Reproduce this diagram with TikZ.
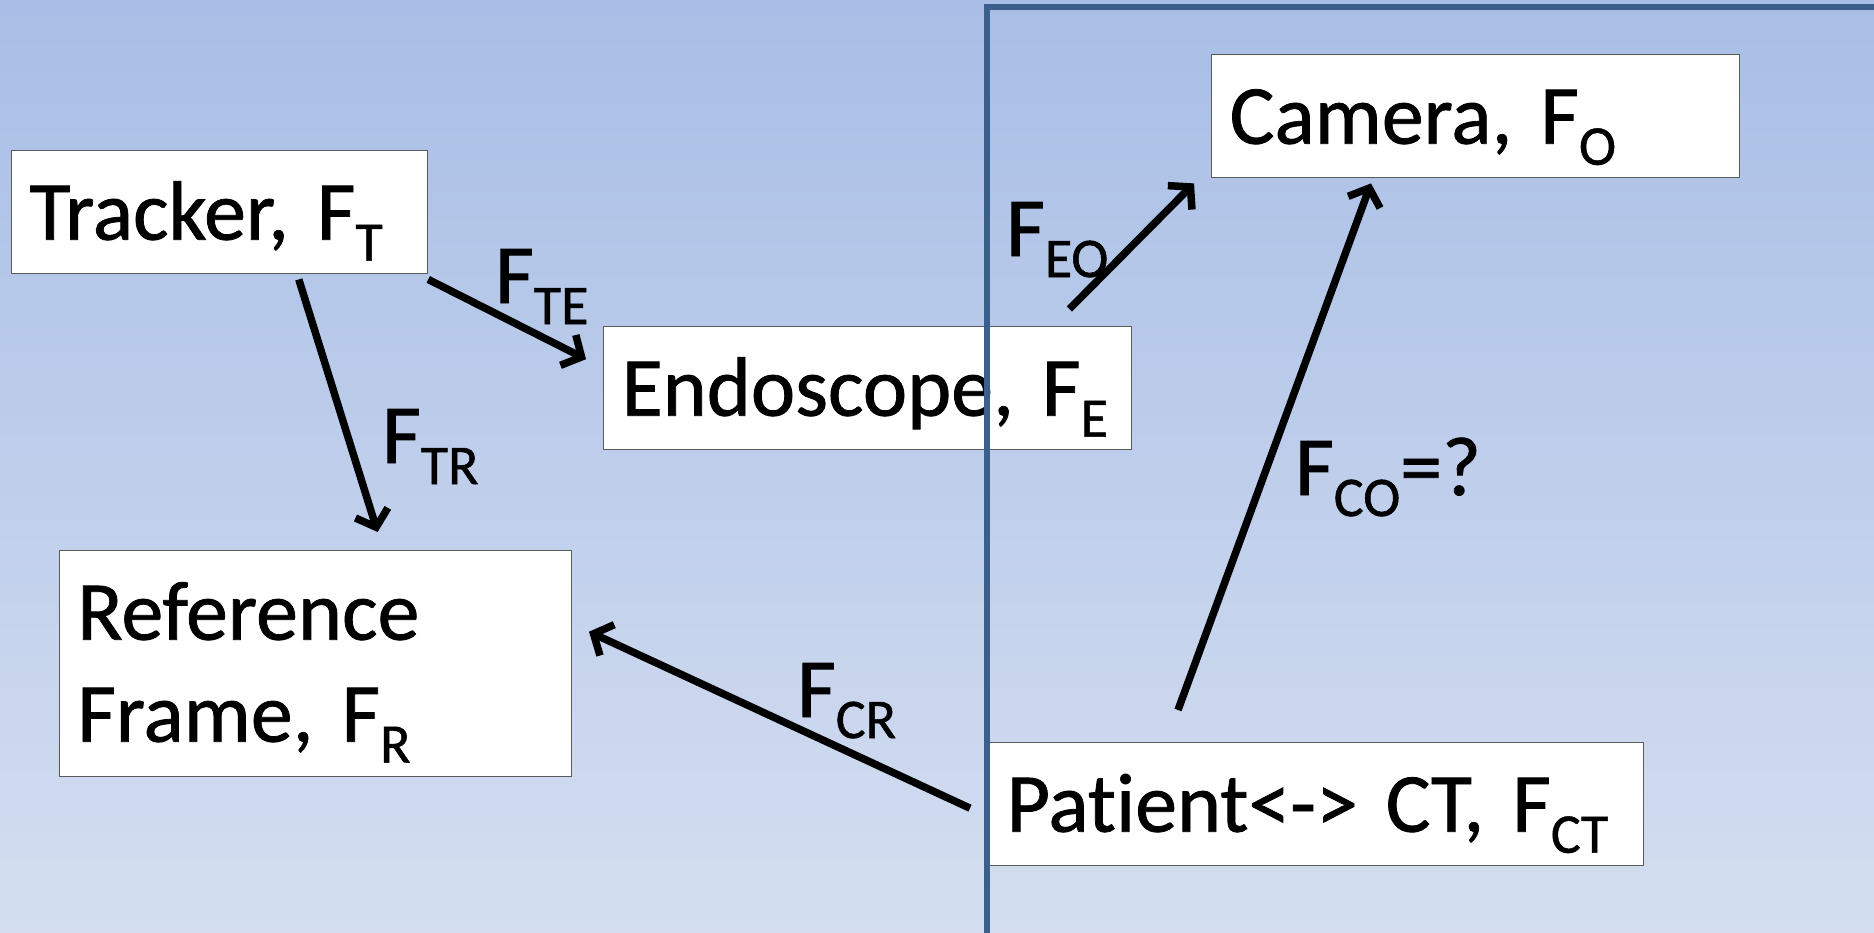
\documentclass[tikz,border=0pt]{standalone}
\usepackage{fontspec}
\setmainfont[RawFeature={-liga}, FakeBold=0.9, WordSpace=0.7]{Carlito}
\usetikzlibrary{arrows.meta}
\definecolor{bgtop}{RGB}{168,190,230}
\definecolor{bgbot}{RGB}{212,222,240}
\definecolor{framecol}{RGB}{60,94,138}
\definecolor{boxline}{RGB}{90,90,90}
\newcommand\lsub[1]{\raisebox{-21pt}{\fontsize{56}{60}\selectfont #1}}
\tikzset{
  bigfont/.style={font=\fontsize{84}{102}\selectfont},
  framebox/.style={draw=boxline, line width=1.4pt, fill=white, anchor=north west,
    inner xsep=18pt, inner ysep=0pt, text height=89pt, text depth=34pt, align=left, bigfont},
  lbl/.style={inner sep=0pt, anchor=base west, bigfont},
  conn/.style={line width=7.5pt, -{Straight Barb[length=15pt,width=34pt]}},
  regionframe/.style={draw=framecol, line width=6pt}
}
\begin{document}
\begin{tikzpicture}[x=1pt,y=-1pt]
\useasboundingbox (0,0) rectangle (1874,932);
\shade[top color=bgtop, bottom color=bgbot] (0,0) rectangle (1874,932);

\node[framebox, text width=380pt] (tracker) at (10.8,150) {Tracker, F\lsub{T}};
\node[framebox, text width=492pt] (endo) at (603,326) {Endoscope, F\lsub{E}};
\node[framebox, text width=492pt] (cam) at (1211,54) {Camera, F\lsub{O}};
\node[framebox, text width=476pt, text depth=137pt] (ref) at (58.6,550) {Reference\\Frame, F\lsub{R}};
\node[framebox, text width=619pt] (pat) at (988,742) {Patient<-> CT, F\lsub{CT}};

\draw[regionframe] (987,945) -- (987,6.5) -- (1890,6.5);

\node[lbl] (lte) at (495,303) {F\lsub{TE}};
\node[lbl] (ltr) at (382,463) {F\lsub{TR}};
\node[lbl] (leo) at (1006,256) {F\lsub{EO}};
\node[lbl] (lco) at (1295,495) {F\lsub{CO}=?};
\node[lbl] (lcr) at (797,717) {F\lsub{CR}};

\draw[conn] ([shift={(0,5)}]tracker.south east) -- ([shift={(-17,-29)}]endo.west);
\draw[conn] ([shift={(288,5)}]tracker.south west) -- ([shift={(319,-18)}]ref.north west);
\draw[conn] ([shift={(-63,-17)}]endo.north east) -- ([shift={(-17,5)}]cam.south west);
\draw[conn] ([shift={(190,-32)}]pat.north west) -- ([shift={(160,5)}]cam.south west);
\draw[conn] ([shift={(-18,4)}]pat.west) -- ([shift={(17,-32)}]ref.east);
\end{tikzpicture}
\end{document}
